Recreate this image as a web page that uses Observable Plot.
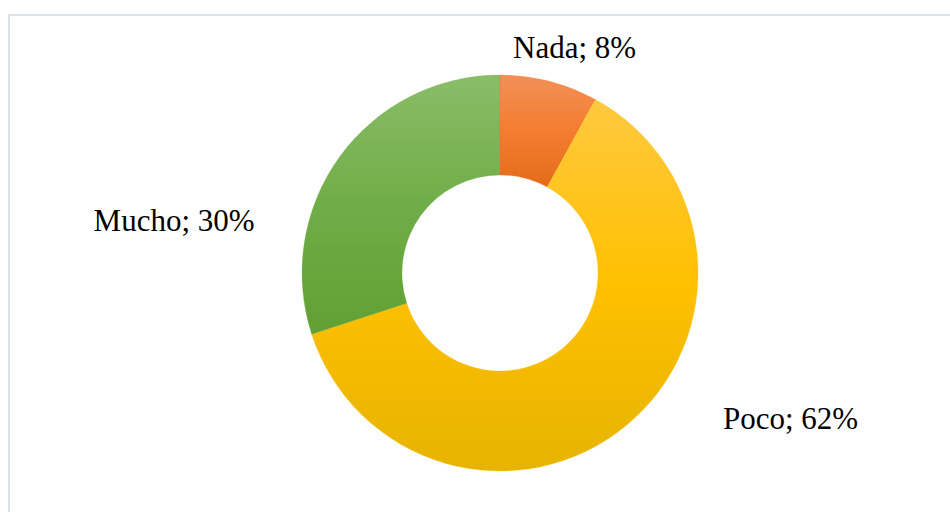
<!DOCTYPE html>
<html><head><meta charset="utf-8">
<script src="https://cdn.jsdelivr.net/npm/d3@7"></script>
<script src="https://cdn.jsdelivr.net/npm/@observablehq/plot@0.6"></script>
<style>html,body{margin:0;padding:0;background:#fff;} #chart svg{display:block;}</style>
</head><body><div id="chart"></div>
<script>
// ---- data ----
const categories = ["Nada", "Poco", "Mucho"];
const values = [8, 62, 30];
const labels = ["Nada; 8%", "Poco; 62%", "Mucho; 30%"];

// ---- styles ----
const gradientTop = ["#f29058", "#ffc940", "#8abd68"];
const gradientMid = ["#f47d2f", "#ffc000", "#70ad47"];
const gradientBottom = ["#e46b1c", "#e6b400", "#61a033"];

// ---- layout ----
const W = 950, H = 512, cx = 500, cy = 273, R = 198;
const innerRatio = 0.495;
// label anchor: polar angle (deg, clockwise from north) and radius in outer-radius units
const labelAngle = [18.2, 116.6, 279.2];
const labelRadius = [1.199, 1.638, 1.670];

const pie = d3.pie().sort(null).value(d => d.value);
const rows = pie(categories.map((c, i) => ({category: c, value: values[i]}))).map((p, i) => {
  const a = labelAngle[i] * Math.PI / 180;
  return {
    category: p.data.category, value: p.data.value,
    startAngle: p.startAngle, endAngle: p.endAngle,
    label: labels[i],
    lx: labelRadius[i] * Math.sin(a),
    ly: labelRadius[i] * Math.cos(a)
  };
});

function donut(index, scales) {
  const x = scales.x, y = scales.y;
  const x0 = x(0), y0 = y(0);
  const ro = Math.abs(x(1) - x(0));
  const g = d3.create("svg:g");
  const defs = g.append("defs");
  rows.forEach((r, i) => {
    const lg = defs.append("linearGradient").attr("id", "grad" + i)
      .attr("x1", 0).attr("y1", 0).attr("x2", 0).attr("y2", 1);
    lg.append("stop").attr("offset", "0%").attr("stop-color", gradientTop[i]);
    lg.append("stop").attr("offset", "50%").attr("stop-color", gradientMid[i]);
    lg.append("stop").attr("offset", "100%").attr("stop-color", gradientBottom[i]);
  });
  const arc = d3.arc().innerRadius(ro * innerRatio).outerRadius(ro);
  g.attr("transform", `translate(${x0},${y0})`)
    .selectAll("path").data(rows).join("path")
    .attr("d", d => arc(d))
    .attr("fill", (d, i) => `url(#grad${i})`)
    .attr("stroke", (d, i) => gradientMid[i])
    .attr("stroke-width", 0.3);
  return g.node();
}

const chart = Plot.plot({
  width: W, height: H,
  margin: 0,
  x: {domain: [-cx / R, (W - cx) / R], axis: null},
  y: {domain: [-(H - cy) / R, cy / R], axis: null},
  style: {background: "#fff"},
  marks: [
    Plot.frame({stroke: "#dde2ea", strokeWidth: 2, insetLeft: 8.5, insetTop: 14.5, insetRight: -30, insetBottom: -30}),
    donut,
    Plot.text(rows, {x: "lx", y: "ly", text: "label", fontSize: 31, fontFamily: "Liberation Serif, Times New Roman, serif", fill: "#000"})
  ]
});
document.getElementById("chart").append(chart);
</script>
</body></html>
